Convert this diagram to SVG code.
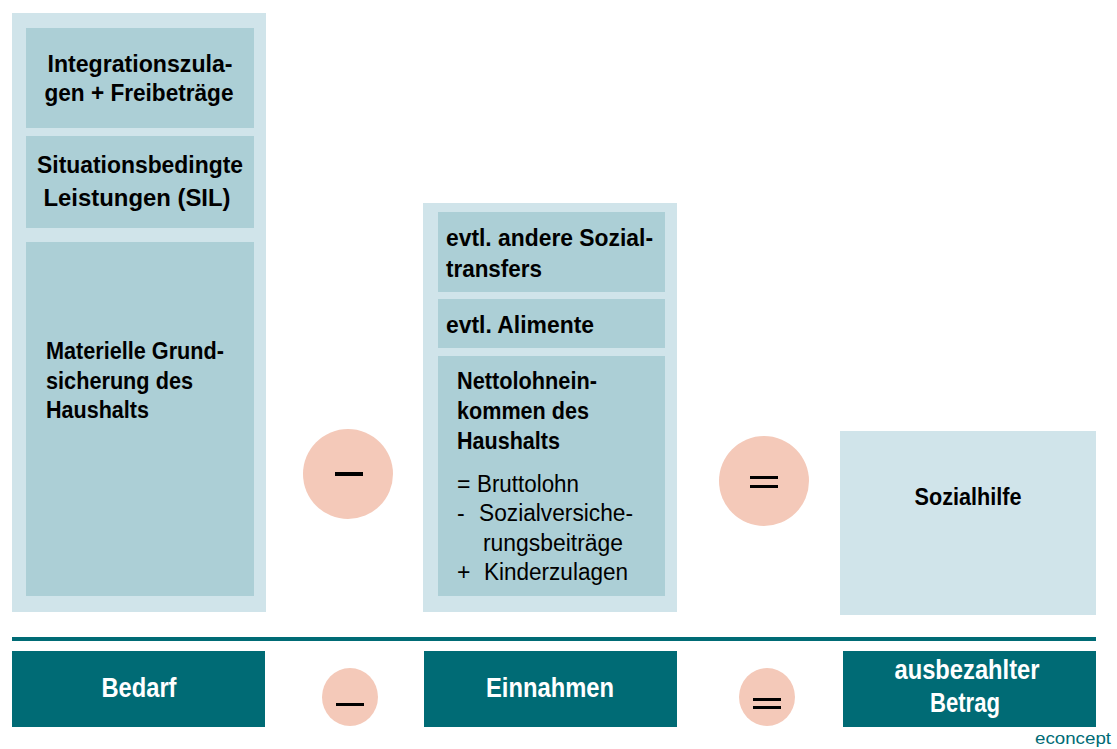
<svg xmlns="http://www.w3.org/2000/svg" width="1117" height="749" viewBox="0 0 1117 749">
<style>
.outer{fill:#d0e4ea}
.inner{fill:#accfd6}
.teal{fill:#006b75}
.circ{fill:#f4c9b9}
.op{fill:#000}
.b{font-family:"Liberation Sans",Arial,sans-serif;font-weight:bold;font-size:23px;fill:#000}
.r{font-family:"Liberation Sans",Arial,sans-serif;font-size:23px;fill:#000}
.w{font-family:"Liberation Sans",Arial,sans-serif;font-weight:bold;font-size:28px;fill:#fff}
.c{text-anchor:middle}
.logo{font-family:"Liberation Sans",Arial,sans-serif;font-size:17px;fill:#006b75}
</style>
<rect width="1117" height="749" fill="#fff"/>
<g id="bedarf-column">
<rect class="outer" x="12" y="13" width="254" height="599"/>
</g>
<g id="integrationszulagen">
<rect class="inner" x="26" y="28" width="228" height="100"/>
<text class="b c" x="140" y="72" textLength="185" lengthAdjust="spacingAndGlyphs">Integrationszula-</text>
<text class="b c" x="139" y="101" textLength="189" lengthAdjust="spacingAndGlyphs">gen + Freibeträge</text>
</g>
<g id="sil">
<rect class="inner" x="26" y="136" width="228" height="92"/>
<text class="b c" x="140" y="173" textLength="206" lengthAdjust="spacingAndGlyphs">Situationsbedingte</text>
<text class="b c" x="137" y="206" textLength="187" lengthAdjust="spacingAndGlyphs">Leistungen (SIL)</text>
</g>
<g id="grundsicherung">
<rect class="inner" x="26" y="242" width="228" height="354"/>
<text class="b" x="46" y="359" textLength="178" lengthAdjust="spacingAndGlyphs">Materielle Grund-</text>
<text class="b" x="46" y="389" textLength="147" lengthAdjust="spacingAndGlyphs">sicherung des</text>
<text class="b" x="46" y="418" textLength="103" lengthAdjust="spacingAndGlyphs">Haushalts</text>
</g>
<g id="minus-big">
<circle class="circ" cx="348" cy="474" r="45"/>
<rect class="op" x="335" y="472" width="28" height="4"/>
</g>
<g id="einnahmen-column">
<rect class="outer" x="423" y="203" width="254" height="409"/>
</g>
<g id="sozialtransfers">
<rect class="inner" x="438" y="212" width="227" height="80"/>
<text class="b" x="446" y="246" textLength="207" lengthAdjust="spacingAndGlyphs">evtl. andere Sozial-</text>
<text class="b" x="446" y="277" textLength="96" lengthAdjust="spacingAndGlyphs">transfers</text>
</g>
<g id="alimente">
<rect class="inner" x="438" y="299" width="227" height="49"/>
<text class="b" x="446" y="333" textLength="148" lengthAdjust="spacingAndGlyphs">evtl. Alimente</text>
</g>
<g id="nettolohn">
<rect class="inner" x="438" y="356" width="227" height="240"/>
<text class="b" x="457" y="389" textLength="140" lengthAdjust="spacingAndGlyphs">Nettolohnein-</text>
<text class="b" x="457" y="419" textLength="132" lengthAdjust="spacingAndGlyphs">kommen des</text>
<text class="b" x="457" y="449" textLength="103" lengthAdjust="spacingAndGlyphs">Haushalts</text>
<text class="r" x="457" y="492">=</text>
<text class="r" x="477" y="492" textLength="102" lengthAdjust="spacingAndGlyphs">Bruttolohn</text>
<text class="r" x="457" y="521">-</text>
<text class="r" x="479" y="521" textLength="154" lengthAdjust="spacingAndGlyphs">Sozialversiche-</text>
<text class="r" x="483" y="551" textLength="140" lengthAdjust="spacingAndGlyphs">rungsbeiträge</text>
<text class="r" x="457" y="580">+</text>
<text class="r" x="484" y="580" textLength="144" lengthAdjust="spacingAndGlyphs">Kinderzulagen</text>
</g>
<g id="equals-big">
<circle class="circ" cx="764" cy="481" r="45"/>
<rect class="op" x="750" y="476" width="28" height="3"/>
<rect class="op" x="750" y="485" width="28" height="3"/>
</g>
<g id="sozialhilfe">
<rect class="outer" x="840" y="431" width="256" height="184"/>
<text class="b c" x="968" y="505" textLength="107" lengthAdjust="spacingAndGlyphs">Sozialhilfe</text>
</g>
<g id="connectors">
<rect class="teal" x="12" y="637" width="1084" height="4"/>
</g>
<g id="bedarf-label">
<rect class="teal" x="12" y="651" width="253" height="76"/>
<text class="w c" x="139" y="697" textLength="75" lengthAdjust="spacingAndGlyphs">Bedarf</text>
</g>
<g id="minus-small">
<ellipse class="circ" cx="350" cy="697" rx="28" ry="29"/>
<rect class="op" x="336" y="703" width="28" height="3"/>
</g>
<g id="einnahmen-label">
<rect class="teal" x="424" y="651" width="253" height="76"/>
<text class="w c" x="550" y="697" textLength="128" lengthAdjust="spacingAndGlyphs">Einnahmen</text>
</g>
<g id="equals-small">
<ellipse class="circ" cx="767" cy="697" rx="28" ry="29"/>
<rect class="op" x="753" y="698" width="28" height="3"/>
<rect class="op" x="753" y="706" width="28" height="3"/>
</g>
<g id="betrag-label">
<rect class="teal" x="843" y="651" width="253" height="76"/>
<text class="w c" x="967" y="679" textLength="145" lengthAdjust="spacingAndGlyphs">ausbezahlter</text>
<text class="w c" x="965" y="712" textLength="70" lengthAdjust="spacingAndGlyphs">Betrag</text>
</g>
<text class="logo" x="1111" y="744" text-anchor="end" textLength="76" lengthAdjust="spacingAndGlyphs">econcept</text>
</svg>
